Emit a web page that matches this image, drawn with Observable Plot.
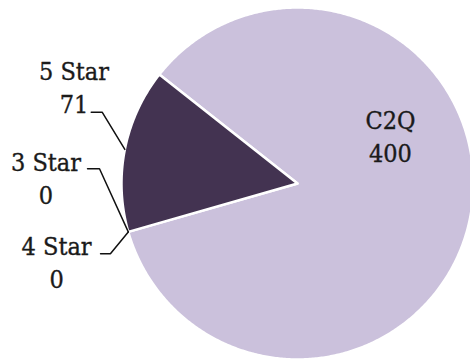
<!DOCTYPE html>
<html>
<head>
<meta charset="utf-8">
<script src="https://cdn.jsdelivr.net/npm/d3@7"></script>
<script src="https://cdn.jsdelivr.net/npm/@observablehq/plot@0.6"></script>
<style>
  html, body { margin: 0; padding: 0; background: #ffffff; }
  #chart svg { display: block; }
</style>
</head>
<body>
<div id="chart"></div>
<script>
// ---- data ----
const categories = ["C2Q", "4 Star", "3 Star", "5 Star"];
const values = [400, 0, 0, 71];
const sliceColors = ["#cbc1dc", "#cbc1dc", "#cbc1dc", "#433351"];

// ---- layout (unit-radius coordinates relative to the pie centre) ----
const startAngleDeg = -51.7;
const labelLayout = {
  "5 Star": {knee: [-1.110, 0.405], end: [-1.172, 0.405], text: [-1.270, 0.399], leader: true},
  "3 Star": {knee: [-1.125, 0.084], end: [-1.193, 0.084], text: [-1.429, -0.115], leader: true},
  "4 Star": {knee: [-1.063, -0.399], end: [-1.119, -0.399], text: [-1.369, -0.591], leader: true},
  "C2Q":    {text: [0.528, 0.121], leader: false}
};

const data = categories.map((name, i) => ({name, value: values[i]}));
const arcs = d3.pie().sort(null).value(d => d.value)
  .startAngle(startAngleDeg * Math.PI / 180)
  .endAngle(startAngleDeg * Math.PI / 180 + 2 * Math.PI)(data);

// polygon points for each slice (angles clockwise from 12 o'clock)
const slicePts = [];
for (const a of arcs) {
  if (a.endAngle - a.startAngle <= 0) continue;
  const name = a.data.name;
  slicePts.push({name, x: 0, y: 0});
  const n = Math.max(2, Math.ceil((a.endAngle - a.startAngle) / (Math.PI / 360)));
  for (let k = 0; k <= n; ++k) {
    const t = a.startAngle + (a.endAngle - a.startAngle) * k / n;
    slicePts.push({name, x: Math.sin(t), y: Math.cos(t)});
  }
}

// leader lines
const leaderPts = [];
for (const a of arcs) {
  const L = labelLayout[a.data.name];
  if (!L.leader) continue;
  const m = (a.startAngle + a.endAngle) / 2;
  leaderPts.push({name: a.data.name, x: Math.sin(m), y: Math.cos(m)});
  leaderPts.push({name: a.data.name, x: L.knee[0], y: L.knee[1]});
  leaderPts.push({name: a.data.name, x: L.end[0], y: L.end[1]});
}

// labels
const labels = arcs.map(a => ({
  text: `${a.data.name}\n${a.data.value}`,
  x: labelLayout[a.data.name].text[0],
  y: labelLayout[a.data.name].text[1]
}));

const chart = Plot.plot({
  width: 470,
  height: 360,
  margin: 0,
  style: {fontFamily: "'DejaVu Serif Condensed', 'DejaVu Serif', serif", fontStretch: "condensed", background: "#ffffff"},
  x: {domain: [-1, 1], range: [121, 473], axis: null},
  y: {domain: [-1, 1], range: [359, 7], axis: null},
  color: {domain: categories, range: sliceColors},
  marks: [
    Plot.line(slicePts, {x: "x", y: "y", z: "name", fill: "name", stroke: "#ffffff",
      strokeWidth: 2.5, strokeLinejoin: "round", curve: "linear-closed"}),
    Plot.line(leaderPts, {x: "x", y: "y", z: "name", stroke: "#111111",
      strokeWidth: 1.5, strokeLinejoin: "miter", curve: "linear"}),
    Plot.text(labels, {x: "x", y: "y", text: "text", fontSize: 25, lineHeight: 1.32,
      lineAnchor: "bottom", textAnchor: "middle", fill: "#1a1a1a",
      stroke: "#1a1a1a", strokeWidth: 0.35})
  ]
});
document.getElementById("chart").appendChild(chart);
</script>
</body>
</html>
